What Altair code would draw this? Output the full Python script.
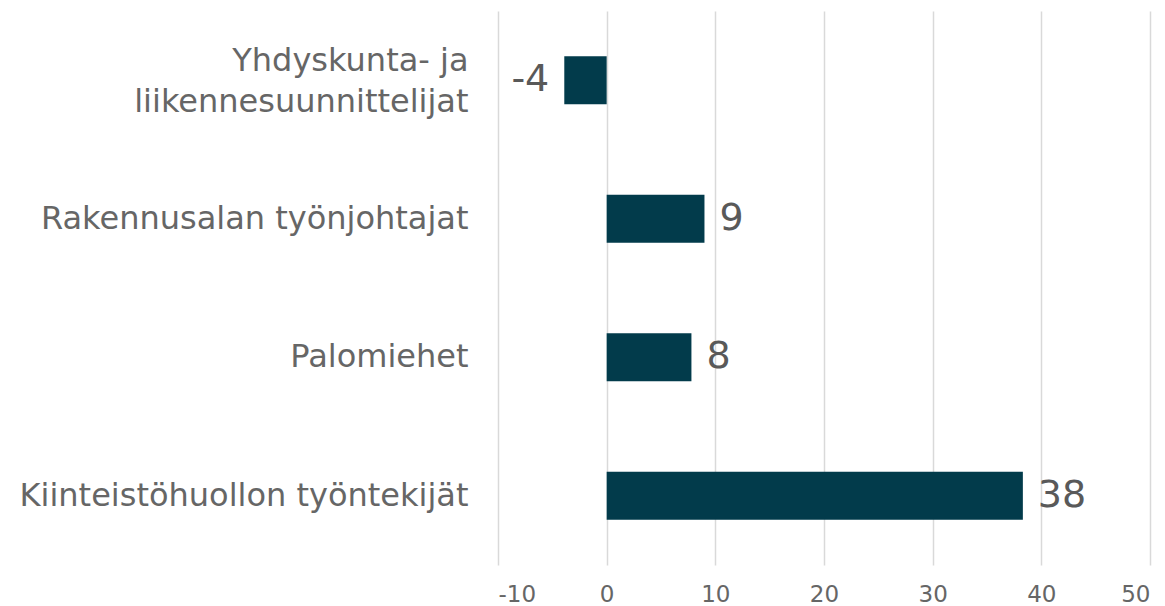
import altair as alt
import pandas as pd

categories = [
    "Yhdyskunta- ja\nliikennesuunnittelijat",
    "Rakennusalan työnjohtajat",
    "Palomiehet",
    "Kiinteistöhuollon työntekijät",
]
values = [-3.9, 9.0, 7.8, 38.3]
x_ticks = [-10, 0, 10, 20, 30, 40, 50]

df = pd.DataFrame({"cat": categories, "value": values})

FONT = "DejaVu Sans"
BAR = "#023b4b"

y_enc = alt.Y(
    "cat:N",
    sort=categories,
    title=None,
    scale=alt.Scale(paddingInner=0.653, paddingOuter=0.3265),
    axis=alt.Axis(
        domain=False,
        ticks=False,
        grid=False,
        labelPadding=30,
        labelFont=FONT,
        labelFontSize=32,
        labelColor="#666666",
        labelLineHeight=41,
        labelLimit=600,
        labelExpr="split(datum.label, '\\n')",
        labelOffset=alt.condition("indexof(datum.value, 'Yhdyskunta') >= 0", alt.value(-19), alt.value(0)),
    ),
)

x_enc = alt.X(
    "value:Q",
    title=None,
    scale=alt.Scale(domain=[-10, 50], nice=False, zero=False),
    axis=alt.Axis(
        values=x_ticks,
        domain=False,
        ticks=False,
        grid=True,
        gridColor="#d9d9d9",
        gridWidth=1.5,
        labelPadding=18,
        labelFont=FONT,
        labelFontSize=23,
        labelColor="#666666",
        labelExpr="toString(datum.value)",
    ),
)

base = alt.Chart(df).transform_calculate(
    label="replace(format(datum.value, '.0f'), '\u2212', '-')"
)

bars = base.mark_bar(color=BAR).encode(x=x_enc, y=y_enc)

pos_text = base.transform_filter("datum.value >= 0").mark_text(
    align="left", baseline="middle", dx=15, font=FONT, fontSize=38, color="#595959"
).encode(x="value:Q", y=alt.Y("cat:N", sort=categories), text="label:N")

neg_text = base.transform_filter("datum.value < 0").mark_text(
    align="right", baseline="middle", dx=-15, font=FONT, fontSize=38, color="#595959"
).encode(x="value:Q", y=alt.Y("cat:N", sort=categories), text="label:N")

chart = (
    alt.layer(bars, pos_text, neg_text)
    .properties(
        width=652,
        height=554,
        autosize=alt.AutoSizeParams(type="none"),
        padding={"left": 490, "top": 3, "right": 7, "bottom": 41},
        background="white",
    )
    .configure_view(stroke=None)
)

chart.save("out.html", embed_options={"renderer": "svg", "actions": False})
